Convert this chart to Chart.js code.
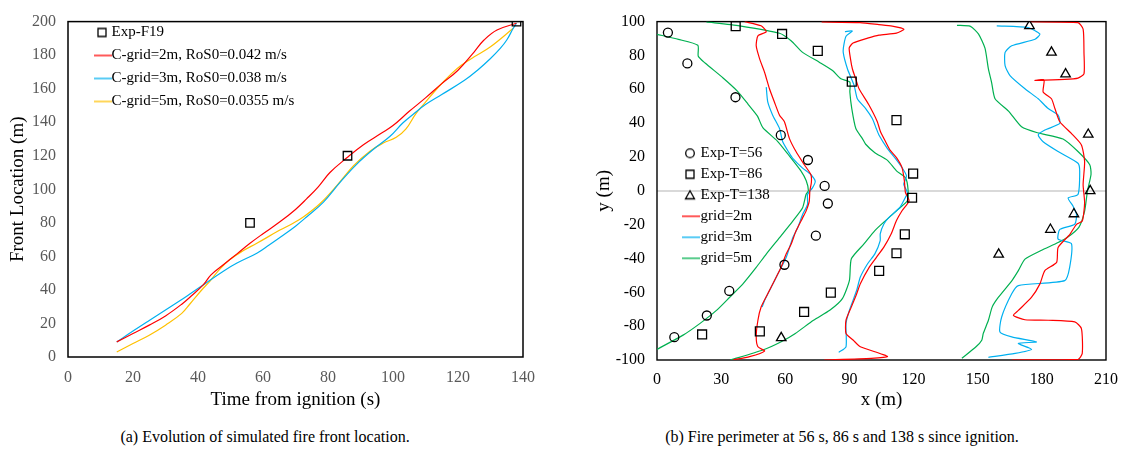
<!DOCTYPE html>
<html>
<head>
<meta charset="utf-8">
<script src="https://cdn.jsdelivr.net/npm/chart.js@4.4.1/dist/chart.umd.min.js"></script>
<style>
  body { margin: 0; background: #fff; width: 1128px; height: 457px; position: relative; overflow: hidden; font-family: "Liberation Serif", "Times New Roman", serif; }
  .panel { position: absolute; top: 0; height: 420px; }
  .caption { position: absolute; top: 428px; width: 420px; font-size: 16px; line-height: 18px; text-align: center; color: #000; white-space: nowrap; }
</style>
</head>
<body>
<div class="panel" style="left:0;width:560px"><canvas id="frontChart"></canvas></div>
<div class="panel" style="left:560px;width:568px"><canvas id="perimeterChart"></canvas></div>
<div class="caption" style="left:55px">(a) Evolution of simulated fire front location.</div>
<div class="caption" style="left:632px">(b) Fire perimeter at 56 s, 86 s and 138 s since ignition.</div>
<script>
const SERIF = '"Liberation Serif", "Times New Roman", serif';

// (a) front location (m) against time from ignition (s)
const frontExp = [[56, 80], [86, 120], [138, 200]];
const frontGrid2 = [[15, 9], [20, 14], [25, 19], [30, 24.5], [35, 31.5], [38, 36.5], [41.6, 43], [44, 49], [47.8, 55],
  [52, 61.5], [56, 67.8], [60, 73.5], [65.2, 80.6], [70, 88], [73.4, 94.3], [77, 101.5], [80.6, 110], [85.8, 118.8],
  [90.9, 126.6], [96.5, 133.5], [100, 138], [105, 146.5], [110, 154.5], [115, 163], [120, 171], [125, 182],
  [128, 189], [132, 195], [138, 199]];
const frontGrid3 = [[15, 9], [20, 15.5], [25, 21.8], [30, 28], [35, 34.3], [37.5, 37.5], [41.6, 43], [47.8, 51.2],
  [52, 56], [58.1, 61.9], [62, 67], [66.3, 72.8], [70, 78], [73.4, 83.5], [78.6, 92.4], [83.7, 104.1], [88.8, 114.9],
  [93.9, 123.7], [99.1, 131.6], [103, 139.5], [106.4, 145], [110, 150.5], [115, 156.5], [122, 165], [126, 171],
  [130, 178], [133, 184], [135, 189], [137, 196], [138, 199]];
const frontGrid5 = [[15, 3], [20, 8], [25, 13], [30, 19], [35, 26], [37.5, 31.6], [41.6, 41], [43.7, 45.3], [46.5, 52],
  [49.8, 58.1], [54, 63.5], [58.1, 67.8], [65.2, 75.7], [69, 79.5], [72.4, 83.5], [77.5, 91.4], [82.7, 102.2],
  [87.8, 113.9], [92.9, 122.7], [97, 127.6], [101, 131], [104, 136], [107, 145], [110, 152], [114, 161], [118, 169],
  [121, 174], [125, 179], [130, 185], [137, 196]];

// (b) fire perimeter, x (m) and y (m)
const expT56 = [[5.1, 93.5], [14.2, 75.3], [36.7, 55.3], [57.9, 32.9], [70.6, 18.2], [78.4, 2.9], [79.9, -7.5],
  [74.3, -26.5], [59.6, -43.7], [33.8, -59.2], [23.3, -73.7], [8.1, -86.5]];
const expT86 = [[36.8, 97.3], [58.5, 92.7], [75.2, 82.7], [91.1, 64.5], [112, 41.8], [119.8, 10.2], [119.3, -4.1],
  [115.9, -25.7], [112, -36.9], [103.9, -47.3], [81.3, -60.2], [68.8, -71.6], [48.1, -83.1], [21.1, -84.9]];
const expT138 = [[174.2, 97.5], [184.5, 81.8], [191.1, 69], [201.7, 33.3], [202.6, 0], [195, -13.7], [184, -22.9],
  [159.8, -37.6], [58.1, -86.9]];

const grid2T56 = [[41, 100], [48.7, 97.5], [51.1, 94], [47.2, 91.6], [46.4, 85.7], [48, 78], [50.3, 70.1], [52.6, 60.3],
  [54.9, 52.5], [57.3, 44.7], [59.6, 40.8], [61.9, 31], [65, 23.2], [68.9, 15.4], [72, 9.5], [72.2, 5], [71.5, 0],
  [71.2, -6.2], [69.7, -12], [68.1, -16], [65, -23.8], [62.7, -31.6], [60.4, -37.4], [58, -45.3], [54.9, -53.1],
  [51.8, -60.9], [48.7, -68.7], [47.2, -76.5], [46.4, -86.3], [47.2, -92.2], [50.3, -94.7], [43.3, -98], [35.5, -100]];
const grid3T56 = [[51.1, 61.3], [51.8, 52.5], [54.1, 44.7], [57.3, 36.8], [58.8, 29], [61.5, 23], [63.5, 19.2],
  [68.1, 13.4], [72, 9.5], [74, 5.6], [72.7, 1.7], [70.4, -2.2], [70.4, -8.1], [68.1, -14], [65.8, -21.8], [63.5, -27.7],
  [60.4, -39.4], [56.5, -49.2], [53.4, -57], [50.3, -64.8], [49.2, -68.7]];
const grid5T56 = [[0, 92.5], [10, 89.5], [19.1, 86], [19.3, 79.5], [22.5, 75.5], [30.9, 66.7], [37.7, 58.8], [42.7, 51],
  [47, 44.1], [49.5, 37.3], [56.3, 29.4], [61.3, 21.6], [67.3, 11.8], [69.8, 5.9], [70.8, 0], [69.7, -2.2], [68.1, -10],
  [63.5, -17.9], [57.3, -27.7], [51.1, -37.4], [46.4, -45.3], [40.2, -55], [34, -62.9], [27.8, -70.7], [20, -78.5],
  [12.2, -85.3], [0, -93.7]];

const grid2T86 = [[77, 99.8], [95, 99.4], [103.8, 98.2], [110, 97.3], [115.5, 95.5], [112, 93.2], [103.8, 92],
  [98.5, 90.2], [91.7, 87.3], [89.9, 84.5], [90.5, 78], [91.4, 72], [93, 66], [94.5, 60.3], [99, 51], [103, 41],
  [104.5, 35], [106.9, 29], [109, 24], [112, 19.6], [114.6, 13.7], [115.7, 5.9], [116.2, -1], [117.9, -5.9],
  [114.6, -11.8], [112, -17.6], [109.5, -25.5], [106.1, -33.3], [102.7, -39.2], [99.3, -45.1], [95.1, -54.9],
  [93.4, -60.8], [90.9, -68.6], [88.4, -76.5], [88.4, -84.3], [91.7, -88.2], [95.1, -92.2], [101.9, -95.1],
  [107.8, -98], [100.2, -99], [78.2, -100]];
const grid3T86 = [[87.9, 94.1], [91.4, 94.5], [88.5, 91.5], [87.5, 87], [87.1, 81.8], [89.1, 72], [92.2, 62.3],
  [93.7, 54.4], [97.6, 48.6], [100.7, 42.7], [102.5, 37], [103.8, 33], [107.7, 25.1], [111.2, 19.6], [114.6, 13.7],
  [116.7, 8.8], [115.4, 3.9], [117.1, -1], [116.2, -3.9], [113.6, -9.8], [108.5, -15.7], [106.1, -19.6],
  [104.4, -25.5], [104.4, -29.4], [101.9, -37.3], [98.5, -43.1], [95.1, -51], [93.4, -58.8], [90, -70.6],
  [88.4, -78.4], [88.4, -92.2], [85, -95.5]];
const grid5T86 = [[23.1, 99.8], [38.6, 97.5], [57.3, 93.1], [62.7, 88.7], [68.1, 81.8], [75.9, 76], [82.1, 71.1],
  [86, 66.2], [90.2, 64.2], [90.2, 58.4], [91.1, 48.6], [93, 36.8], [96, 31], [97.6, 27.5], [101.9, 22.5],
  [107.8, 18], [112, 11.8], [116.2, 7.8], [117.4, 1], [117.1, -5.9], [112.9, -10.8], [106.9, -17.6], [101.9, -23.5],
  [96.8, -31.4], [90.9, -40.2], [90, -52.9], [86.7, -63.7], [80.8, -70.6], [73.2, -76.5], [64.7, -84.3],
  [58.1, -89.2], [49.5, -94.1], [34.3, -100]];

const grid2T138 = [[174.5, 99.9], [196.9, 99.4], [199.3, 95.5], [199.7, 81.8], [199.7, 69.1], [196.9, 66.6],
  [190.7, 65.8], [176.8, 65.2], [181, 65.5], [180.6, 58.4], [184.5, 54.4], [186.1, 48.6], [188.4, 40.8],
  [193.8, 33.9], [198.5, 27.1], [200, 17.3], [199.3, 3.6], [200, -7.1], [198.9, -17.9], [196.2, -19.8],
  [193.1, -25.7], [187.6, -33.5], [186.9, -42.3], [181.4, -47.2], [179.1, -55], [175.2, -62.9], [169, -70.7],
  [166.7, -73.6], [172.1, -76.2], [183, -76.5], [195.4, -77.5], [198.5, -81.4], [198.9, -96.1], [196.9, -99.6],
  [165.9, -100]];
const grid3T138 = [[158.9, 97.5], [173.6, 96.5], [179.1, 92.6], [176.8, 89.6], [165.9, 85.7], [162.8, 81.8],
  [162.8, 74], [165.1, 68.1], [172.1, 60.3], [178.3, 54.4], [183, 48.6], [187.6, 44.7], [188.4, 39.8], [181.4, 35.9],
  [178.3, 33], [180.6, 29], [187.6, 23.2], [196.9, 16.3], [197.7, 11.4], [196.9, -2.2], [192.3, -4.2], [194.6, -9.1],
  [196.2, -14], [195.4, -19.8], [188.4, -22.8], [187.6, -28.6], [193.8, -31.2], [193, -45.3], [190.7, -53.1],
  [169, -56], [165.9, -60.9], [161.2, -74.6], [160.4, -83.4], [165.9, -86.3], [177.5, -89.3], [169, -90.2],
  [175.2, -93.7], [167.5, -96.1], [155, -98.4]];
const grid5T138 = [[140.3, 97.8], [146.6, 97.2], [150.4, 92.6], [153.4, 84.3], [155, 72], [156.5, 64], [158.1, 54.4],
  [164.4, 47.1], [170.5, 37.8], [177.9, 34.3], [189.9, 30.6], [196.9, 23.2], [202.4, 15.4], [203, 9.8],
  [201.3, -0.3], [200, -12], [197.3, -21.6], [192, -27.5], [187.6, -30.6], [179.6, -35.3], [172.1, -40.4],
  [169, -47.2], [166.1, -52.9], [159.7, -62.9], [156.8, -68.6], [155, -76.5], [152.6, -84.3], [151.9, -88.3],
  [149.2, -92.2], [142.6, -99]];

const RED = '#ff0000', BLUE = '#00b0f0', YELLOW = '#ffc000', GREEN = '#00b050';

const toPoints = arr => arr.map(([x, y]) => ({ x, y }));

// small canvases used as legend symbols (marker sits at 34, line runs 26..44)
function legendIcon(kind, color) {
  const c = document.createElement('canvas');
  c.width = 44; c.height = 16;
  const g = c.getContext('2d');
  g.strokeStyle = color; g.lineWidth = 1.3;
  g.beginPath();
  if (kind === 'line') { g.moveTo(26, 8); g.lineTo(44, 8); }
  else if (kind === 'rect') g.rect(30, 4, 8, 8);
  else if (kind === 'circle') g.arc(34, 8, 4.3, 0, 2 * Math.PI);
  else if (kind === 'triangle') { g.moveTo(34, 3.5); g.lineTo(38.5, 11.5); g.lineTo(29.5, 11.5); g.closePath(); }
  g.stroke();
  return c;
}

const framePlugin = {
  id: 'frame',
  beforeDatasetsDraw(chart, args, opts) {
    const { ctx, chartArea: a } = chart;
    ctx.save();
    ctx.strokeStyle = opts.color || '#000';
    ctx.lineWidth = opts.width || 1;
    ctx.strokeRect(a.left, a.top, a.width, a.height);
    ctx.restore();
  }
};
Chart.register(framePlugin);

function legendLabels(icons) {
  return chart => chart.data.datasets
    .map((ds, i) => ({ text: ds.label, pointStyle: icons[ds.label], datasetIndex: i, hidden: false, lineWidth: 0, fontColor: '#000' }))
    .filter(item => item.pointStyle);
}

function marker(label, data, style, radius) {
  return { label, data: toPoints(data), pointStyle: style, pointRadius: radius, pointHoverRadius: radius,
    borderColor: '#000', backgroundColor: 'rgba(0,0,0,0)', borderWidth: 1.3, showLine: false };
}
function curve(label, data, color, tension) {
  return { label, data: toPoints(data), showLine: true, borderColor: color, backgroundColor: color,
    borderWidth: 1.2, pointRadius: 0, pointHoverRadius: 0, tension };
}

// Evolution of simulated fire front location
new Chart(document.getElementById('frontChart'), {
  type: 'scatter',
  data: {
    datasets: [
      marker('Exp-F19', frontExp, 'rect', 6),
      curve('C-grid=2m, RoS0=0.042 m/s', frontGrid2, RED, 0.4),
      curve('C-grid=3m, RoS0=0.038 m/s', frontGrid3, BLUE, 0.4),
      curve('C-grid=5m, RoS0=0.0355 m/s', frontGrid5, YELLOW, 0.4)
    ]
  },
  options: {
    animation: false,
    responsive: true,
    maintainAspectRatio: false,
    layout: { padding: { left: 0, top: 17, right: 37, bottom: 0 } },
    scales: {
      x: {
        type: 'linear', min: 0, max: 140,
        ticks: { stepSize: 20, padding: 11, color: '#595959', font: { family: SERIF, size: 16 } },
        grid: { display: false, drawTicks: false },
        border: { display: false },
        title: { display: true, text: 'Time from ignition (s)', color: '#000', font: { family: SERIF, size: 19 }, padding: { top: 0, bottom: 8.6 } },
        afterFit: s => { s.height = 63; }
      },
      y: {
        type: 'linear', min: 0, max: 200,
        ticks: { stepSize: 20, padding: 12, color: '#595959', font: { family: SERIF, size: 16 } },
        grid: { display: false, drawTicks: false },
        border: { display: false },
        title: { display: true, text: 'Front Location (m)', color: '#000', font: { family: SERIF, size: 19 }, padding: { top: 6.6, bottom: 0 } },
        afterFit: s => { s.width = 68; }
      }
    },
    plugins: {
      frame: { color: '#000', width: 1.5 },
      tooltip: { enabled: false },
      legend: {
        position: 'chartArea',
        align: 'start',
        // empty title only pushes the rows down inside the plot
        title: { display: true, text: '', font: { size: 10, lineHeight: 1 }, padding: { top: 0, bottom: 7 } },
        labels: {
          usePointStyle: true, pointStyleWidth: 28, padding: 8,
          font: { family: SERIF, size: 15 }, color: '#000',
          generateLabels: legendLabels({
            'Exp-F19': legendIcon('rect', '#000'),
            'C-grid=2m, RoS0=0.042 m/s': legendIcon('line', RED),
            'C-grid=3m, RoS0=0.038 m/s': legendIcon('line', BLUE),
            'C-grid=5m, RoS0=0.0355 m/s': legendIcon('line', YELLOW)
          })
        }
      }
    }
  }
});

// Fire perimeter at 56 s, 86 s and 138 s
new Chart(document.getElementById('perimeterChart'), {
  type: 'scatter',
  data: {
    datasets: [
      marker('Exp-T=56', expT56, 'circle', 4.5),
      marker('Exp-T=86', expT86, 'rect', 6.3),
      marker('Exp-T=138', expT138, 'triangle', 5.5),
      curve('grid=2m', grid2T56, RED, 0.2),
      curve('grid=3m', grid3T56, BLUE, 0.2),
      curve('grid=5m', grid5T56, GREEN, 0.2),
      curve('grid=2m T86', grid2T86, RED, 0.2),
      curve('grid=3m T86', grid3T86, BLUE, 0.2),
      curve('grid=5m T86', grid5T86, GREEN, 0.2),
      curve('grid=2m T138', grid2T138, RED, 0.2),
      curve('grid=3m T138', grid3T138, BLUE, 0.2),
      curve('grid=5m T138', grid5T138, GREEN, 0.2)
    ]
  },
  options: {
    animation: false,
    responsive: true,
    maintainAspectRatio: false,
    layout: { padding: { left: 0, top: 19.5, right: 18, bottom: 0 } },
    scales: {
      x: {
        type: 'linear', min: 0, max: 210,
        ticks: { stepSize: 30, padding: 10, color: '#000', font: { family: SERIF, size: 16 } },
        grid: { display: false, drawTicks: false },
        border: { display: false },
        title: { display: true, text: 'x (m)', color: '#000', font: { family: SERIF, size: 19 }, padding: { top: 0, bottom: 8.6 } },
        afterFit: s => { s.height = 60; }
      },
      y: {
        type: 'linear', min: -100, max: 100,
        ticks: { stepSize: 20, padding: 12, color: '#000', font: { family: SERIF, size: 16 } },
        grid: { drawTicks: false, lineWidth: 2, color: c => (c.tick && c.tick.value === 0 ? '#d9d9d9' : 'rgba(0,0,0,0)') },
        border: { display: false },
        title: { display: true, text: 'y (m)', color: '#000', font: { family: SERIF, size: 19 }, padding: { top: 32.6, bottom: 0 } },
        afterFit: s => { s.width = 97; }
      }
    },
    plugins: {
      frame: { color: '#000', width: 1.4 },
      tooltip: { enabled: false },
      legend: {
        position: 'chartArea',
        align: 'start',
        title: { display: true, text: '', font: { size: 10, lineHeight: 1 }, padding: { top: 0, bottom: 129.8 } },
        labels: {
          usePointStyle: true, pointStyleWidth: 30, padding: 6,
          font: { family: SERIF, size: 15 }, color: '#000',
          generateLabels: legendLabels({
            'Exp-T=56': legendIcon('circle', '#000'),
            'Exp-T=86': legendIcon('rect', '#000'),
            'Exp-T=138': legendIcon('triangle', '#000'),
            'grid=2m': legendIcon('line', RED),
            'grid=3m': legendIcon('line', BLUE),
            'grid=5m': legendIcon('line', GREEN)
          })
        }
      }
    }
  }
});
</script>
</body>
</html>
